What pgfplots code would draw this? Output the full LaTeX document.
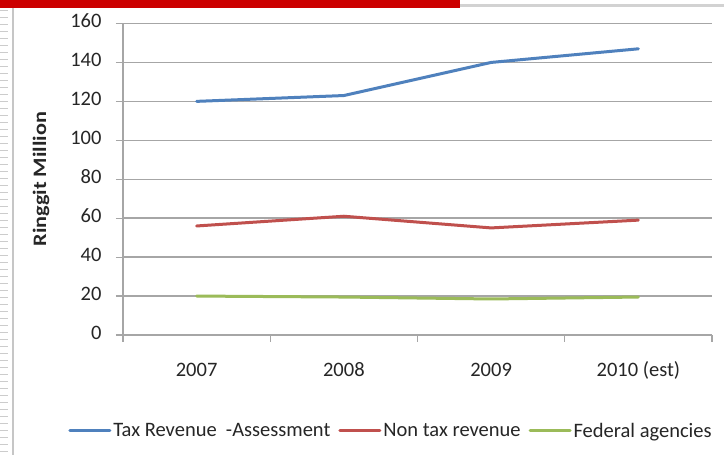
\documentclass[border=0pt]{standalone}
\usepackage{pgfplots}
\pgfplotsset{compat=1.18}
\usepackage{fontspec}
\setmainfont{Carlito}
\definecolor{xblue}{HTML}{4F81BD}
\definecolor{xred}{HTML}{C0504D}
\definecolor{xgreen}{HTML}{9BBB59}
\definecolor{topred}{HTML}{CC0000}
\definecolor{xgrid}{HTML}{A6A6A6}
\begin{document}
\begin{tikzpicture}[x=1pt,y=1pt]
\path[use as bounding box] (0,0) rectangle (724,455);
\fill[white] (0,0) rectangle (724,455);
\fill[topred] (0,447) rectangle (460,455);
\fill[gray!35] (460,448) rectangle (724,451);
\draw[gray!45, line width=1.2pt] (13,0) -- (13,447);
\foreach \y in {3,10,...,445} \draw[gray!40, line width=1pt] (0,\y) -- (8,\y);
\begin{axis}[
  at={(123pt,120pt)}, anchor=south west, scale only axis,
  width=589pt, height=311.5pt,
  xmin=-0.5, xmax=3.5, ymin=0, ymax=160,
  ytick={0,20,...,160},
  xtick={-0.5,0.5,1.5,2.5,3.5},
  x tick label as interval,
  xticklabels={2007,2008,2009,2010 (est)},
  typeset ticklabels with strut,
  axis x line*=bottom, axis y line*=left,
  axis line style={xgrid, line width=1.2pt, -},
  ymajorgrids, grid style={line width=1.4pt, color=xgrid},
  tick align=outside, major tick length=7pt,
  tick style={xgrid, line width=1.2pt},
  /pgf/number format/assume math mode=true,
  tick label style={font=\fontsize{20.5}{22}\selectfont, text=black!85},
  xticklabel style={yshift=-16pt},
  yticklabel style={xshift=-11pt},
  ylabel={\scalebox{1.17}[1]{\bfseries Ringgit Million}},
  ylabel style={at={(axis description cs:-0.139,0.5)}, anchor=center,
    font=\fontsize{19}{21}\selectfont, text=black!85},
  legend columns=3,
  legend style={at={(0.455,-0.308)}, anchor=center, draw=none, fill=none,
    font=\fontsize{20.5}{22}\selectfont, text=black!85,
    /tikz/every even column/.append style={column sep=6pt}},
  legend image code/.code={\draw[#1] (0pt,0pt) -- (40pt,0pt);},
  every axis plot/.append style={line width=3pt, line join=round, line cap=round},
]
\addplot[xblue] coordinates {(0,120) (1,123) (2,140) (3,147)};
\addlegendentry{Tax Revenue\ \ -Assessment}
\addplot[xred] coordinates {(0,56) (1,61) (2,55) (3,59)};
\addlegendentry{Non tax revenue}
\addplot[xgreen] coordinates {(0,20) (1,19.5) (2,18.5) (3,19.5)};
\addlegendentry{Federal agencies}
\end{axis}
\end{tikzpicture}
\end{document}
